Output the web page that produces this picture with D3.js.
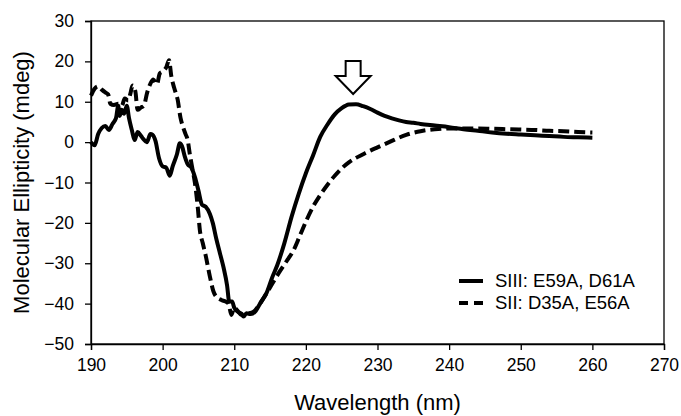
<!DOCTYPE html>
<html>
<head>
<meta charset="utf-8">
<script src="https://cdn.jsdelivr.net/npm/d3@7"></script>
<style>
  body { margin: 0; background: #fff; }
  text { font-family: "Liberation Sans", Arial, sans-serif; fill: #000; }
</style>
</head>
<body>
<div id="chart"></div>
<script>
// SIII: E59A, D61A (solid)
var siiiWl = [190, 190.5, 191, 191.5, 192, 192.5, 193, 193.5, 193.8, 194, 194.3, 194.6, 195, 195.3, 195.7, 196.1, 196.5, 197, 197.3, 197.8, 198.3, 198.6, 199, 199.5, 200, 200.5, 201, 201.4, 202, 202.4, 202.7, 203.1, 203.5, 204, 204.5, 205, 205.5, 206, 206.6, 207, 207.5, 208, 208.5, 209, 209.3, 209.7, 210, 210.5, 211, 211.3, 211.7, 212.3, 213, 213.6, 214.5, 215.3, 216, 217, 218, 219, 220, 221, 222, 223, 224, 225, 226, 227, 228, 229, 230, 231, 232, 233, 234, 235, 236, 238, 240, 242, 244, 246, 248, 250, 252, 254, 256, 258, 260];
var siiiVal = [0, -0.8, 2, 3.5, 4, 3, 4.5, 6, 9, 6.5, 8, 7, 9, 6, 3, 0.5, 2.5, 1.5, 0.8, 0, 2, 1.8, 0.3, -4, -6, -6.3, -8.3, -6, -3, -0.3, -1, -3.6, -5.5, -6.3, -8.6, -12, -15.5, -16, -17.8, -20, -24, -27.5, -31, -35.5, -39.5, -39.5, -41, -42, -42.5, -43.2, -42.4, -42.6, -41.8, -40, -37.4, -33.5, -30.5, -25, -18.5, -12.8, -7.7, -3.3, 1.3, 4.3, 6.8, 8.4, 9.3, 9.4, 8.9, 8.2, 7.3, 6.5, 5.9, 5.4, 5.0, 4.8, 4.5, 4.1, 3.7, 3.2, 2.8, 2.4, 2.1, 1.9, 1.7, 1.5, 1.3, 1.2, 1.1];

// SII: D35A, E56A (dashed)
var siiWl = [190, 190.5, 191, 191.5, 192, 192.4, 192.7, 193.2, 193.8, 194.3, 194.7, 195.2, 195.5, 195.8, 196.2, 196.5, 197, 197.4, 197.8, 198.3, 198.7, 199.2, 199.6, 200.1, 200.5, 200.9, 201.2, 201.6, 202.1, 202.5, 202.8, 203.2, 203.5, 203.8, 204.2, 204.5, 204.9, 205.2, 205.6, 206, 206.6, 207.1, 207.5, 208.2, 208.8, 209.2, 209.6, 210, 210.4, 211, 211.5, 212, 212.7, 213.4, 214.2, 215, 215.6, 216.4, 217.3, 218.3, 219.2, 220.1, 221, 222, 223, 224, 225, 226, 227, 228, 229, 230, 231, 232, 233, 234, 235, 236, 237, 238, 240, 242, 244, 246, 248, 250, 252, 254, 256, 258, 260];
var siiVal = [11.5, 13.2, 13.8, 13, 12.3, 11.8, 9.5, 9.2, 9.5, 9, 10.8, 10.3, 12, 14, 12.5, 8, 8.6, 9, 12, 14.5, 15.5, 14.3, 17, 17.6, 18.5, 20.3, 16.5, 13.5, 10.5, 6, 4, 2, 0.5, -3, -7, -10, -16, -21.8, -25, -28, -33.3, -37, -38.3, -39.1, -39.5, -40, -42.8, -41, -41.6, -42.8, -42.5, -42.4, -42, -40.5, -38.3, -36, -34.2, -31.9, -29.5, -26.7, -23, -19.3, -16, -13.1, -10.6, -8.4, -6.5, -5, -3.9, -3, -2.1, -1.3, -0.5, 0.3, 1.1, 1.8, 2.3, 2.7, 3, 3.2, 3.4, 3.4, 3.4, 3.3, 3.2, 3.1, 3, 2.8, 2.7, 2.5, 2.4];

var xTicks = [190, 200, 210, 220, 230, 240, 250, 260, 270];
var yTicks = [-50, -40, -30, -20, -10, 0, 10, 20, 30];
var seriesNames = ["SIII: E59A, D61A", "SII: D35A, E56A"];
var peakMark = 226.6; // arrow over the positive band

var width = 681, height = 416;
var margin = {top: 21, right: 17, bottom: 72, left: 91};
var innerW = width - margin.left - margin.right,
    innerH = height - margin.top - margin.bottom;

var svg = d3.select("#chart").append("svg")
    .attr("width", width)
    .attr("height", height);

var x = d3.scaleLinear().domain([190, 270]).range([0, innerW]);
var y = d3.scaleLinear().domain([-50, 30]).range([innerH, 0]);

var g = svg.append("g").attr("transform", "translate(" + margin.left + "," + margin.top + ")");

// frame
g.append("rect")
    .attr("width", innerW).attr("height", innerH)
    .attr("fill", "none").attr("stroke", "#000").attr("stroke-width", 1.3);

var xAxis = g.append("g")
    .attr("transform", "translate(0," + innerH + ")")
    .call(d3.axisBottom(x).tickValues(xTicks).tickSize(6).tickPadding(9).tickFormat(d3.format("d")));
var yAxis = g.append("g")
    .call(d3.axisLeft(y).tickValues(yTicks).tickSize(6).tickPadding(11).tickFormat(d3.format("d")));

[xAxis, yAxis].forEach(function(a) {
    a.select(".domain").attr("stroke-width", 1.3);
    a.selectAll(".tick line").attr("stroke-width", 1.3);
    a.selectAll("text").style("font-size", "17.5px").style("font-family", "Liberation Sans, Arial, sans-serif");
});

var line = d3.line()
    .x(function(d) { return x(d[0]); })
    .y(function(d) { return y(d[1]); })
    .curve(d3.curveMonotoneX);

var siii = d3.zip(siiiWl, siiiVal);
var sii = d3.zip(siiWl, siiVal);

g.append("path").datum(sii)
    .attr("d", line)
    .attr("fill", "none").attr("stroke", "#000")
    .attr("stroke-width", 4)
    .attr("stroke-dasharray", "11,5");

g.append("path").datum(siii)
    .attr("d", line)
    .attr("fill", "none").attr("stroke", "#000")
    .attr("stroke-width", 4)
    .attr("stroke-linejoin", "round");

// open arrow pointing at the peak
var ax = x(peakMark), atop = 40, atip = 73;
var arrowPts = [
    [ax - 7.5, atop], [ax + 7.5, atop], [ax + 7.5, atop + 15],
    [ax + 17.5, atop + 15], [ax, atip], [ax - 17.5, atop + 15], [ax - 7.5, atop + 15]
];
g.append("polygon")
    .attr("points", arrowPts.map(function(p) { return p.join(","); }).join(" "))
    .attr("fill", "#fff").attr("stroke", "#000").attr("stroke-width", 2);

// legend
var leg = g.append("g").attr("transform", "translate(368,260)");
seriesNames.forEach(function(name, i) {
    leg.append("line")
        .attr("x1", 0).attr("x2", 24)
        .attr("y1", i * 22).attr("y2", i * 22)
        .attr("stroke", "#000").attr("stroke-width", 4)
        .attr("stroke-dasharray", i === 1 ? "9,6" : null);
    leg.append("text")
        .attr("x", 36).attr("y", i * 22)
        .attr("dy", "0.35em")
        .style("font-size", "18.5px")
        .text(name);
});

// axis titles
svg.append("text")
    .attr("x", margin.left + innerW / 2).attr("y", 410)
    .attr("text-anchor", "middle")
    .style("font-size", "22px")
    .text("Wavelength (nm)");

svg.append("text")
    .attr("transform", "translate(28.5," + (margin.top + innerH / 2) + ") rotate(-90)")
    .attr("text-anchor", "middle")
    .style("font-size", "22px")
    .text("Molecular Ellipticity (mdeg)");
</script>
</body>
</html>
